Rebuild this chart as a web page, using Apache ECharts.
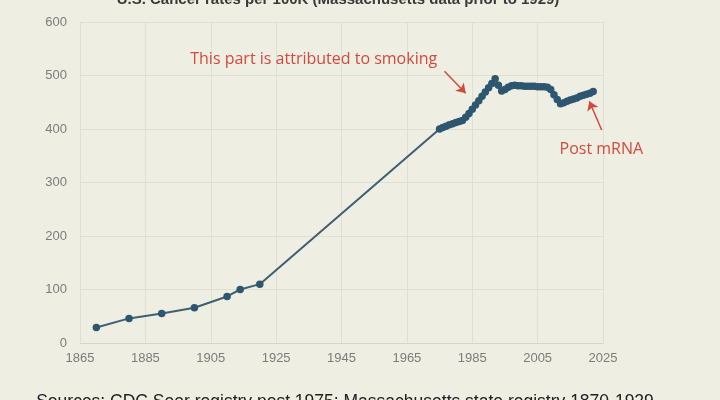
<!DOCTYPE html>
<html>
<head>
<meta charset="utf-8">
<title>U.S. Cancer rates per 100K</title>
<script src="https://cdn.jsdelivr.net/npm/echarts@6/dist/echarts.min.js"></script>
<style>
  html, body { margin: 0; padding: 0; background: #efeee3; }
  #chart { width: 720px; height: 400px; }
</style>
</head>
<body>
<div id="chart"></div>
<script>
// early Massachusetts registry points
const earlyYears = [1870, 1880, 1890, 1900, 1910, 1914, 1920]
const earlyRates = [29, 46, 55, 66, 87, 100, 110]

// SEER, one point a year 1975-2022
const seerYears = [1975, 1976, 1977, 1978, 1979, 1980, 1981, 1982, 1983, 1984,
  1985, 1986, 1987, 1988, 1989, 1990, 1991, 1992, 1993, 1994,
  1995, 1996, 1997, 1998, 1999, 2000, 2001, 2002, 2003, 2004,
  2005, 2006, 2007, 2008, 2009, 2010, 2011, 2012, 2013, 2014,
  2015, 2016, 2017, 2018, 2019, 2020, 2021, 2022]
const seerRates = [400, 403, 405, 408, 410, 412, 414, 416, 422, 429,
  437, 445, 453, 461, 469, 477, 485, 494, 482, 471,
  474, 478, 481, 482, 481, 481, 480, 480, 480, 480,
  479, 479, 479, 478, 474, 464, 455, 447, 449, 452,
  454, 456, 458, 461, 463, 465, 467, 470]

const xTicks = [1865, 1885, 1905, 1925, 1945, 1965, 1985, 2005, 2025]
const yTicks = [0, 100, 200, 300, 400, 500, 600]

const titleText = 'U.S. Cancer rates per 100K (Massachusetts data prior to 1929)'
const sourceText = 'Sources: CDC Seer registry post 1975; Massachusetts state registry 1870-1929'

const chart = echarts.init(document.getElementById('chart'))

const points = earlyYears.map((y, i) => [y, earlyRates[i]])
  .concat(seerYears.map((y, i) => [y, seerRates[i]]))

const red = '#d24a3f'

chart.setOption({
  backgroundColor: '#efeee3',
  animation: false,
  title: [{
    text: titleText,
    left: 333,
    textAlign: 'center',
    top: -13,
    textStyle: { color: '#3a3a3a', fontSize: 15, fontWeight: 'bold', fontFamily: 'Liberation Sans' }
  }, {
    text: sourceText,
    left: 340,
    textAlign: 'center',
    top: 388,
    textStyle: { color: '#222', fontSize: 17.5, fontWeight: 'normal', fontFamily: 'Liberation Sans' }
  }],
  grid: { left: 80, right: 117, top: 22, bottom: 57 },
  xAxis: {
    type: 'value',
    min: xTicks[0],
    max: xTicks[xTicks.length - 1],
    interval: 20,
    axisLine: { show: true, lineStyle: { color: '#d6d5ca' } },
    axisTick: { show: false },
    axisLabel: { color: '#7c7c7c', fontSize: 13, fontFamily: 'Liberation Sans', margin: 9,
      formatter: v => String(v) },
    splitLine: { show: true, lineStyle: { color: '#e0dfd4' } }
  },
  yAxis: {
    type: 'value',
    min: yTicks[0],
    max: yTicks[yTicks.length - 1],
    interval: 100,
    axisLine: { show: false },
    axisTick: { show: false },
    axisLabel: { color: '#7c7c7c', fontSize: 13, fontFamily: 'Liberation Sans', margin: 13 },
    splitLine: { show: true, lineStyle: { color: '#e0dfd4' } }
  },
  series: [{
    type: 'line',
    data: points,
    symbol: 'circle',
    symbolSize: 7.5,
    lineStyle: { color: '#3f5f72', width: 2 },
    itemStyle: { color: '#2d5670' },
    markLine: {
      silent: true,
      symbol: ['none', 'arrow'],
      symbolSize: 9,
      label: { show: false },
      lineStyle: { color: red, width: 1.5, type: 'solid' },
      data: [
        [{ coord: [1976.5, 508] }, { coord: [1983, 467] }],
        [{ coord: [2024.6, 398] }, { coord: [2020.8, 452] }]
      ]
    },
    markPoint: {
      silent: true,
      symbol: 'circle',
      symbolSize: 0,
      label: { show: true, color: red, fontSize: 16, fontFamily: 'Open Sans' },
      data: [
        { coord: [1936.5, 530], value: 'This part is attributed to smoking',
          label: { formatter: 'This part is attributed to smoking' } },
        { coord: [2024.5, 362], value: 'Post mRNA',
          label: { formatter: 'Post mRNA' } }
      ]
    }
  }]
})
</script>
</body>
</html>
